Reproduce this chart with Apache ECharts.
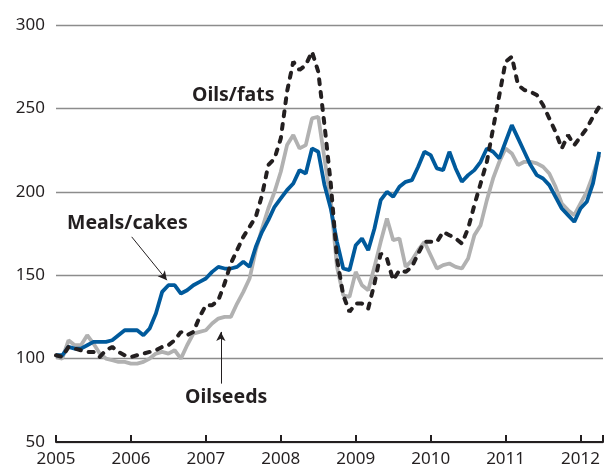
<!DOCTYPE html>
<html>
<head>
<meta charset="utf-8">
<script src="https://cdn.jsdelivr.net/npm/echarts@6/dist/echarts.min.js"></script>
<style>
  html, body { margin: 0; padding: 0; background: #fff; }
  #chart { width: 606px; height: 469px; }
</style>
</head>
<body>
<div id="chart"></div>
<script>
// monthly index values, Jan 2005 .. Apr 2012
const startYear = 2005
const mealsCakes = [
  102, 102, 107, 106, 106, 108, 110, 110, 110, 111, 114, 117,
  117, 117, 114, 118, 127, 140, 144, 144, 139, 141, 144, 146,
  148, 152, 155, 154, 154, 155, 158, 155, 167, 176, 183, 191,
  196, 201, 205, 213, 211, 226, 224, 204, 190, 170, 154, 153,
  168, 172, 165, 178, 195, 200, 197, 203, 206, 207, 215, 224,
  222, 214, 213, 224, 214, 206, 210, 213, 218, 226, 224, 220,
  230, 240, 232, 224, 216, 210, 208, 204, 197, 190, 186, 182,
  190, 194, 205, 224
]
const oilsFats = [
  102, 101, 107, 106, 105, 104, 104, 101, 105, 107, 104, 102,
  101, 102, 103, 104, 105, 107, 108, 111, 116, 114, 116, 125,
  132, 132, 135, 145, 157, 165, 173, 179, 185, 198, 216, 220,
  232, 260, 278, 273, 276, 284, 272, 240, 205, 160, 138, 128,
  133, 133, 130, 145, 163, 160, 147, 153, 152, 155, 163, 170,
  170, 170, 176, 174, 172, 169, 178, 192, 205, 218, 238, 258,
  278, 281, 264, 261, 260, 258, 252, 244, 236, 226, 234, 228,
  233, 238, 245, 251
]
const oilseeds = [
  101, 100, 111, 108, 108, 114, 109, 103, 100, 99, 98, 98,
  97, 97, 98, 100, 103, 104, 103, 105, 100, 108, 115, 116,
  117, 121, 124, 125, 125, 133, 140, 148, 165, 178, 190, 200,
  212, 228, 234, 226, 228, 244, 245, 220, 195, 155, 138, 137,
  152, 144, 141, 155, 170, 184, 171, 172, 155, 159, 165, 170,
  162, 154, 156, 157, 155, 154, 160, 174, 180, 195, 208, 218,
  226, 223, 216, 218, 218, 217, 215, 211, 203, 193, 189, 186,
  193, 200, 210, 222
]
const yearTicks = [2005, 2006, 2007, 2008, 2009, 2010, 2011, 2012]

function toPairs(values) {
  return values.map((v, i) => [startYear + i / 12, v])
}

const chart = echarts.init(document.getElementById('chart'))
const textColor = '#231f20'
const font = 'Noto Sans'
const labelFont = 'bold 19.5px "Noto Sans"'

chart.setOption({
  animation: false,
  grid: { left: 56, right: 0, top: 25, bottom: 27 },
  xAxis: {
    type: 'value',
    min: 2005,
    max: 2012.3,
    interval: 1,
    axisLine: { lineStyle: { color: textColor, width: 2 } },
    axisTick: { inside: true, length: 7, lineStyle: { color: textColor, width: 2 } },
    axisLabel: {
      color: textColor,
      fontFamily: font,
      fontSize: 17,
      margin: 9,
      formatter: v => (yearTicks.indexOf(v) >= 0 ? String(v) : '')
    },
    splitLine: { show: false }
  },
  yAxis: {
    type: 'value',
    min: 50,
    max: 300,
    interval: 50,
    axisLine: { show: false },
    axisTick: { show: false },
    axisLabel: {
      color: textColor,
      fontFamily: font,
      fontSize: 17,
      margin: 11
    },
    splitLine: { lineStyle: { color: '#8c8c8c', width: 1.3 } }
  },
  series: [
    {
      name: 'Oilseeds',
      type: 'line',
      data: toPairs(oilseeds),
      showSymbol: false,
      lineStyle: { color: '#b1b1b1', width: 3.8 },
      z: 2,
      markLine: {
        silent: true,
        symbol: ['none', 'arrow'],
        symbolSize: [7, 9],
        label: { show: false },
        lineStyle: { color: textColor, width: 1, type: 'solid' },
        data: [
          [{ coord: [2007.2, 85] }, { coord: [2007.2, 116] }],
          [{ coord: [2006.01, 173] }, { coord: [2006.48, 147] }]
        ]
      }
    },
    {
      name: 'Meals/cakes',
      type: 'line',
      data: toPairs(mealsCakes),
      showSymbol: false,
      lineStyle: { color: '#005a9c', width: 3.8 },
      z: 3
    },
    {
      name: 'Oils/fats',
      type: 'line',
      data: toPairs(oilsFats),
      showSymbol: false,
      lineStyle: { color: textColor, width: 4, type: [5, 8], cap: 'round' },
      z: 4
    }
  ],
  graphic: [
    {
      type: 'text', left: 192, top: 85,
      style: { text: 'Oils/fats', fill: textColor, font: labelFont }
    },
    {
      type: 'text', left: 67, top: 213,
      style: { text: 'Meals/cakes', fill: textColor, font: labelFont }
    },
    {
      type: 'text', left: 185, top: 387,
      style: { text: 'Oilseeds', fill: textColor, font: labelFont }
    }
  ]
})
</script>
</body>
</html>
